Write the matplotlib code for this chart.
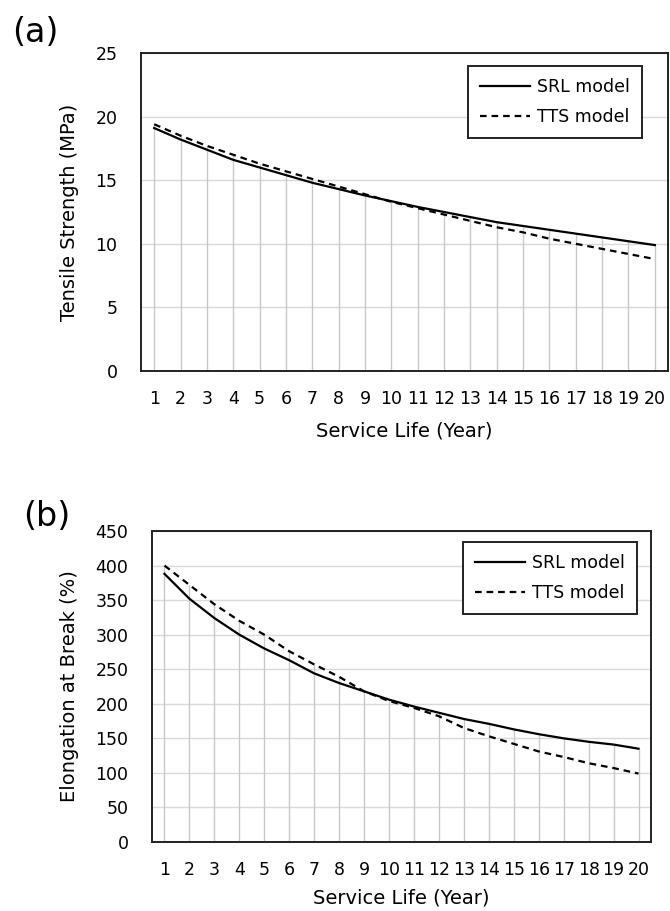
import matplotlib
matplotlib.use('Agg')

import numpy as np
import matplotlib.pyplot as plt

plt.rcParams['font.family'] = ['DejaVu Sans']

# Service life (years)
years = list(range(1, 21))
year_labels = [str(y) for y in years]

# (a) tensile strength, MPa
ts_srl = [19.1, 18.2, 17.4, 16.6, 16.0, 15.4, 14.8, 14.3, 13.8, 13.35,
          12.9, 12.5, 12.1, 11.7, 11.4, 11.1, 10.8, 10.5, 10.2, 9.9]
ts_tts = [19.4, 18.5, 17.7, 17.0, 16.3, 15.7, 15.1, 14.5, 13.9, 13.3,
          12.8, 12.3, 11.8, 11.3, 10.9, 10.4, 10.0, 9.6, 9.2, 8.8]

# (b) elongation at break, %
eb_srl = [388, 352, 324, 300, 280, 263, 244, 230, 218, 206,
          196, 187, 178, 171, 163, 156, 150, 145, 141, 135]
eb_tts = [400, 372, 344, 320, 300, 276, 257, 239, 218, 204,
          194, 182, 165, 153, 142, 131, 123, 114, 107, 99]

GRID = '#d9d9d9'
DROP = '#c8c8c8'


def draw_panel(ax, srl, tts, ymax, ystep, ylabel, leg_anchor, ylab_x, xlab_y):
    x = np.array(years)
    top = np.maximum(srl, tts)
    # drop lines from axis up to curve
    ax.vlines(x, 0, top, color=DROP, linewidth=1.0, zorder=1)
    ax.plot(x, srl, color='black', linewidth=1.6, label='SRL model', zorder=3)
    ax.plot(x, tts, color='black', linewidth=1.6, linestyle=(0, (3, 2.2)),
            label='TTS model', zorder=3)

    ax.set_xlim(0.5, 20.5)
    ax.set_ylim(0, ymax)
    ax.set_yticks(np.arange(0, ymax + 1, ystep))
    ax.set_xticks(x)
    ax.set_xticklabels(year_labels)
    ax.yaxis.grid(True, color=GRID, linewidth=1.0)
    ax.set_axisbelow(True)
    ax.tick_params(length=0, labelsize=12.5)
    ax.tick_params(axis='y', pad=17)
    ax.tick_params(axis='x', pad=14)
    for sp in ax.spines.values():
        sp.set_linewidth(1.4)
        sp.set_color('#222222')

    ax.set_ylabel(ylabel, fontsize=14)
    ax.yaxis.set_label_coords(ylab_x, 0.5)
    ax.set_xlabel('Service Life (Year)', fontsize=14)
    ax.xaxis.set_label_coords(0.5, xlab_y)

    leg = ax.legend(loc='upper right', bbox_to_anchor=leg_anchor, fontsize=12.5,
                    fancybox=False, framealpha=1, edgecolor='#222222',
                    handlelength=2.9, handletextpad=0.4, labelspacing=0.7,
                    borderpad=0.7, borderaxespad=0)
    leg.get_frame().set_linewidth(1.4)


fig = plt.figure(figsize=(6.7, 9.11), dpi=100)
fig.patch.set_facecolor('white')

ax_a = fig.add_axes([141 / 670, 1 - 371 / 911, 527 / 670, 318 / 911])
draw_panel(ax_a, ts_srl, ts_tts, 25, 5, 'Tensile Strength (MPa)',
           (0.951, 0.959), -0.118, -0.16)

ax_b = fig.add_axes([152 / 670, 1 - 842 / 911, 499 / 670, 311 / 911])
draw_panel(ax_b, eb_srl, eb_tts, 450, 50, 'Elongation at Break (%)',
           (0.972, 0.965), -0.146, -0.15)

fig.text(35 / 670, 1 - 33 / 911, '(a)', fontsize=24, ha='center', va='center')
fig.text(47 / 670, 1 - 517 / 911, '(b)', fontsize=24, ha='center', va='center')

fig.savefig('out.png', dpi=100, facecolor='white')
plt.close(fig)
